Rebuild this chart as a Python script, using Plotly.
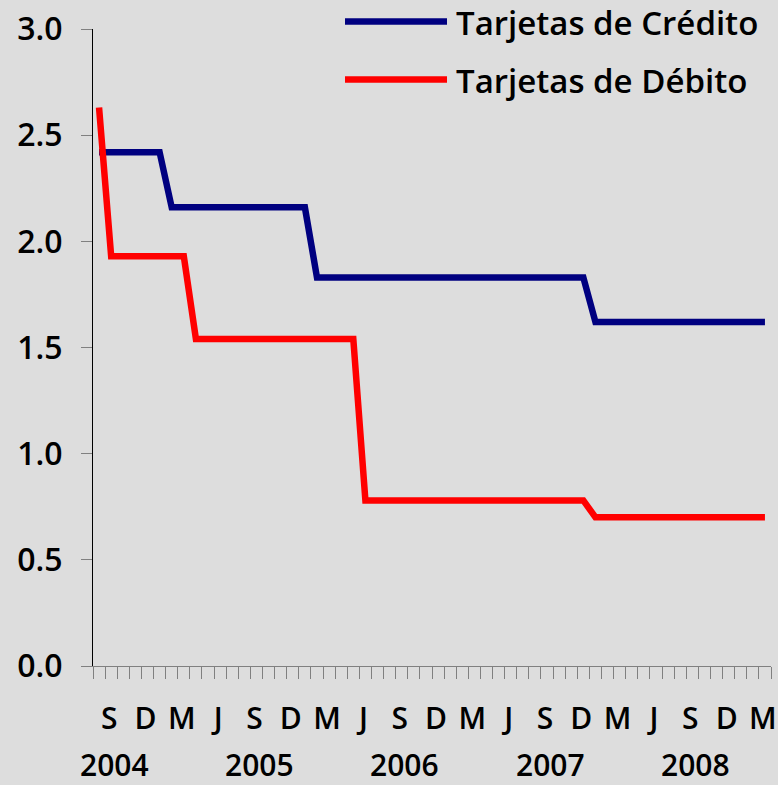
import plotly.graph_objects as go

# Monthly periods: Aug 2004 .. Mar 2009
periods = [f"{y}-{m:02d}" for y in range(2004, 2010) for m in range(1, 13)][7:63]

credito = [2.42, 2.42, 2.42, 2.42, 2.42, 2.42,
           2.16, 2.16, 2.16, 2.16, 2.16, 2.16, 2.16, 2.16, 2.16, 2.16, 2.16, 2.16,
           1.83, 1.83, 1.83, 1.83, 1.83, 1.83, 1.83, 1.83, 1.83, 1.83, 1.83, 1.83,
           1.83, 1.83, 1.83, 1.83, 1.83, 1.83, 1.83, 1.83, 1.83, 1.83, 1.83,
           1.62, 1.62, 1.62, 1.62, 1.62, 1.62, 1.62, 1.62, 1.62, 1.62, 1.62, 1.62,
           1.62, 1.62, 1.62]

debito = [2.63,
          1.93, 1.93, 1.93, 1.93, 1.93, 1.93, 1.93,
          1.54, 1.54, 1.54, 1.54, 1.54, 1.54, 1.54, 1.54, 1.54, 1.54, 1.54, 1.54,
          1.54, 1.54,
          0.78, 0.78, 0.78, 0.78, 0.78, 0.78, 0.78, 0.78, 0.78, 0.78, 0.78, 0.78,
          0.78, 0.78, 0.78, 0.78, 0.78, 0.78, 0.78,
          0.70, 0.70, 0.70, 0.70, 0.70, 0.70, 0.70, 0.70, 0.70, 0.70, 0.70, 0.70,
          0.70, 0.70, 0.70]

quarter_letters = {"03": "M", "06": "J", "09": "S", "12": "D"}
year_labels = ["2004", "2005", "2006", "2007", "2008"]
series_names = ["Tarjetas de Crédito", "Tarjetas de Débito"]
series_colors = ["#000080", "#ff0000"]

x = list(range(len(periods)))
tickvals = [i for i, p in enumerate(periods) if p[5:] in quarter_letters]
ticktext = [quarter_letters[periods[i][5:]] for i in tickvals]

FONT = "Open Sans"
FS = 32

fig = go.Figure()
for name, vals, col in zip(series_names, [credito, debito], series_colors):
    fig.add_trace(go.Scatter(x=x, y=vals, mode="lines", name=name,
                             line=dict(color=col, width=6.5), showlegend=False))

# year labels under the September label of each year
for yl in year_labels:
    idx = periods.index(f"{yl}-09")
    fig.add_annotation(x=idx + 0.25, y=-0.155, xref="x", yref="paper",
                       text=yl, showarrow=False, yanchor="middle",
                       font=dict(family=FONT, size=30, color="black", weight=600))

# manual legend (long line samples)
L0, L1 = 93, 678  # plot left px, plot width px
PB, PH = 666, 637
def px_x(p):
    return (p - L0) / L1
def px_y(p):
    return (PB - p) / PH
for i, (name, col) in enumerate(zip(series_names, series_colors)):
    ly = 21.5 + i * 58
    fig.add_shape(type="line", xref="paper", yref="paper",
                  x0=px_x(345), x1=px_x(447), y0=px_y(ly), y1=px_y(ly),
                  line=dict(color=col, width=6.5))
    fig.add_annotation(x=px_x(454), y=px_y(ly + 1.5), xref="paper", yref="paper",
                       text=name, showarrow=False, xanchor="left", yanchor="middle",
                       font=dict(family=FONT, size=33, color="black", weight=600))

fig.update_layout(
    width=778, height=785,
    margin=dict(l=93, r=7, t=29, b=119, autoexpand=False),
    paper_bgcolor="#dddddd", plot_bgcolor="#dddddd",
    font=dict(family=FONT, size=FS, color="black", weight=600),
    showlegend=False,
)
fig.update_xaxes(
    range=[-0.5, len(periods) - 0.5], automargin=False,
    showgrid=False, zeroline=False,
    showline=True, linecolor="#808080", linewidth=1,
    tickmode="array", tickvals=tickvals, ticktext=ticktext,
    tickfont=dict(size=30),
    ticks="", ticklabelstandoff=26, ticklabeloverflow="allow", ticklabelshift=-2,
    minor=dict(tickmode="array", tickvals=[i - 0.5 for i in range(len(periods) + 1)],
               ticks="outside", ticklen=12, tickcolor="#808080", tickwidth=1,
               showgrid=False),
)
fig.update_yaxes(
    range=[0, 3], dtick=0.5, tickformat=".1f", automargin=False,
    showgrid=False, zeroline=False,
    showline=True, linecolor="black", linewidth=1,
    ticks="outside", ticklen=11, tickcolor="#808080", tickwidth=1,
    ticklabelstandoff=12,
)

fig.write_html("out.html",
               config={"displayModeBar": False},
               post_script="document.body.style.margin='0px';"
                           "document.body.style.overflow='hidden';"
                           "document.body.style.background='#dddddd';")
